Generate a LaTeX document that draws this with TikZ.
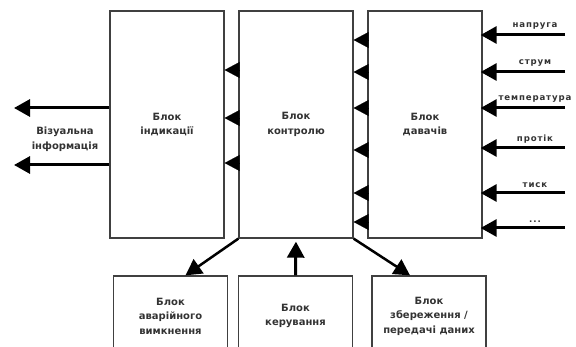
\documentclass[tikz,border=0pt]{standalone}
\usepackage{fontspec}
\setsansfont{DejaVu Sans}
\newfontfamily\sigfont[LetterSpace=10]{DejaVu Sans}
\usetikzlibrary{arrows.meta, positioning, calc}
\newcommand\moredots{...}

\begin{document}
\begin{tikzpicture}[x=1pt, y=-1pt,
	blok/.style={draw=black!75, line width=1.3pt, minimum width=114pt, align=center, inner sep=0pt,
		font=\sffamily\bfseries\fontsize{10}{14.5}\selectfont, text=black!80},
	tallblok/.style={blok, minimum height=227pt},
	lowblok/.style={blok, minimum height=80pt},
	flow/.style={line width=3pt, -{Triangle[length=16pt,width=17pt]}},
	wedge/.style={line width=0.1pt, -{Triangle[length=15pt,width=16pt]}},
	signal/.style={font=\sigfont\bfseries\fontsize{8.6}{10}\selectfont, text=black!80, inner sep=1pt}]
	\useasboundingbox (0,0) rectangle (576,347);
	\clip (0,0) rectangle (576,347);

	\node[tallblok] (ind) at (167,124.5) {Блок\\індикації};
	\node[tallblok] (ctrl) at (296,124.5) {Блок\\контролю};
	\node[tallblok] (sens) at (425,124.5) {Блок\\давачів};
	\node[lowblok] (crash) at (170.5,316) {Блок\\аварійного\\вимкнення};
	\node[lowblok] (mgmt) at (295.5,316) {Блок\\керування};
	\node[lowblok] (store) at (429,316) {Блок\\збереження /\\передачі даних};

	% between the blocks
	\foreach \y in {70,118,163}
		\draw[wedge] (ctrl.west |- 0,\y) -- (ind.east |- 0,\y);
	\foreach \y in {40,72,108,150,193,222}
		\draw[wedge] (sens.west |- 0,\y) -- (ctrl.east |- 0,\y);

	% sensor inputs
	\foreach \y/\txt [count=\i] in {35/напруга, 72/струм, 108/температура, 148/протік, 193/тиск, 228/\moredots} {
		\coordinate (in\i) at (565,\y);
		\draw[flow, shorten >=-2pt] (in\i) -- (sens.east |- in\i);
		\node[signal, anchor=south] (sig\i) at ([xshift=-30pt,yshift=4pt]in\i) {\txt};
	}

	% visual output
	\foreach \y [count=\i] in {108,165} {
		\coordinate (out\i) at (14,\y);
		\draw[flow] (ind.west |- out\i) -- (out\i);
	}
	\node[align=center, font=\sffamily\bfseries\fontsize{10}{14.5}\selectfont, text=black!80] (vis) at (65,139) {Візуальна\\інформація};

	\draw[flow, line width=2.5pt] (ctrl.south west) -- ([xshift=15pt]crash.north);
	\draw[flow, line width=2.5pt] (ctrl.south east) -- ([xshift=-19pt]store.north);
	\draw[flow, shorten >=3pt] (mgmt.north) -- (ctrl.south);
\end{tikzpicture}
\end{document}
